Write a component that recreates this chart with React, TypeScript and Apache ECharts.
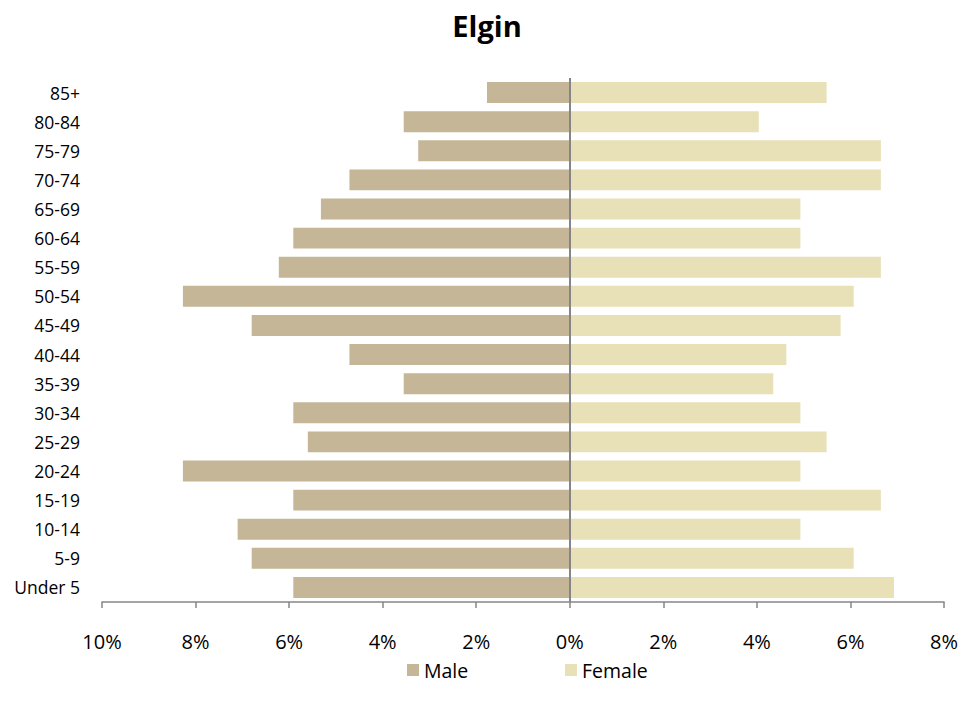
import React, { useEffect, useRef } from "react";
import * as echarts from "echarts";

const categories = [
  "Under 5", "5-9", "10-14", "15-19", "20-24", "25-29", "30-34", "35-39", "40-44",
  "45-49", "50-54", "55-59", "60-64", "65-69", "70-74", "75-79", "80-84", "85+",
];
// Male shares (%), drawn to the left
const maleValues = [5.91, 6.8, 7.1, 5.91, 8.27, 5.6, 5.91, 3.55, 4.71, 6.8, 8.27, 6.22, 5.91, 5.32, 4.71, 3.24, 3.55, 1.77];
// Female shares (%), drawn to the right
const femaleValues = [6.93, 6.07, 4.93, 6.65, 4.93, 5.49, 4.93, 4.35, 4.63, 5.79, 6.07, 6.65, 4.93, 4.93, 6.65, 6.65, 4.04, 5.49];
const xTicks = [-10, -8, -6, -4, -2, 0, 2, 4, 6, 8];

const FONT = "'Open Sans', sans-serif";

export default function App() {
  const ref = useRef<HTMLDivElement>(null);
  useEffect(() => {
    if (!ref.current) return;
    const chart = echarts.init(ref.current, undefined, { renderer: "svg" });
    chart.setOption({
      animation: false,
      textStyle: { fontFamily: FONT },
      title: {
        text: "Elgin",
        left: "center",
        top: 6,
        textStyle: { fontFamily: FONT, fontSize: 29, fontWeight: "bold", color: "#000" },
      },
      legend: [
        {
          data: ["Male"],
          left: 402,
          top: 655,
          itemWidth: 12,
          itemHeight: 12,
          icon: "rect",
          textStyle: { fontFamily: FONT, fontSize: 19.5, color: "#000" },
        },
        {
          data: ["Female"],
          left: 560,
          top: 655,
          itemWidth: 12,
          itemHeight: 12,
          icon: "rect",
          textStyle: { fontFamily: FONT, fontSize: 19.5, color: "#000" },
        },
      ],
      grid: { left: 102, right: 30, top: 78, bottom: 111, containLabel: false },
      xAxis: {
        type: "value",
        min: xTicks[0],
        max: xTicks[xTicks.length - 1],
        interval: 2,
        axisLine: { show: true, lineStyle: { color: "#868686", width: 1.5 } },
        axisTick: { show: true, length: 6, lineStyle: { color: "#868686", width: 1.5 } },
        splitLine: { show: false },
        axisLabel: {
          margin: 29,
          fontFamily: FONT,
          fontSize: 20,
          color: "#000",
          formatter: (v: number) => Math.abs(v) + "%",
        },
      },
      yAxis: {
        type: "category",
        data: categories,
        axisLine: { show: false },
        axisTick: { show: false },
        axisLabel: { margin: 22, fontFamily: FONT, fontSize: 17.5, color: "#000" },
      },
      series: [
        {
          name: "Male",
          type: "bar",
          stack: "pop",
          data: maleValues.map((v) => -v),
          barCategoryGap: "28%",
          itemStyle: { color: "#C4B696" },
          markLine: {
            silent: true,
            symbol: "none",
            label: { show: false },
            lineStyle: { color: "#868686", width: 2, type: "solid" },
            data: [{ xAxis: 0 }],
          },
        },
        {
          name: "Female",
          type: "bar",
          stack: "pop",
          data: femaleValues,
          barCategoryGap: "28%",
          itemStyle: { color: "#E8E0B6" },
        },
      ],
    });
    return () => chart.dispose();
  }, []);
  return (
    <div
      ref={ref}
      style={{ position: "absolute", left: 0, top: 0, width: 974, height: 713 }}
    />
  );
}
